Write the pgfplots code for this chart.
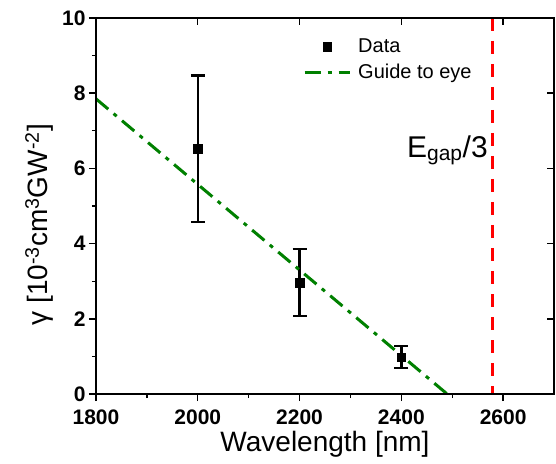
\documentclass[border=0pt]{standalone}
\usepackage{pgfplots}
\pgfplotsset{compat=1.18}
\usepackage{fontspec}
\setmainfont{Liberation Sans}
\begin{document}
\begin{tikzpicture}
% shared frame settings
\pgfplotsset{frame/.style={
    width=458pt, height=376pt, scale only axis,
    xmin=1800, xmax=2700, ymin=0, ymax=10,
    axis line style={line width=1.4pt},
}}
\begin{axis}[
    frame, name=ax,
    xtick={1800,2000,...,2600},
    ytick={0,2,...,10},
    minor x tick num=1,
    minor y tick num=1,
    xtick pos=left, ytick pos=left,
    tick align=outside,
    major tick length=7pt, minor tick length=4pt,
    tick style={line width=1.4pt, black},
    xticklabel={\bfseries\pgfmathprintnumber[assume math mode=true,1000 sep={}]{\tick}},
    yticklabel={\bfseries\pgfmathprintnumber[assume math mode=true]{\tick}},
    ticklabel style={font=\fontsize{21}{23}\selectfont},
    xticklabel style={yshift=-5pt},
    xlabel={Wavelength [nm]},
    ylabel={γ [10\textsuperscript{-3}cm\textsuperscript{3}GW\textsuperscript{-2}]},
    label style={font=\fontsize{28}{32}\selectfont},
    xlabel style={at={(axis description cs:0.5,-0.154)}, anchor=base},
    ylabel style={at={(axis description cs:-0.105,0.45)}, anchor=base},
    legend style={at={(0.452,0.95)}, anchor=north west, draw=none, fill=none,
        inner sep=0pt, font=\fontsize{20}{23}\selectfont, row sep=6pt,
        /tikz/every odd column/.append style={column sep=5pt}},
    legend cell align=left,
    legend image code/.code={\draw[mark repeat=2, mark phase=2, #1]
        plot coordinates {(0pt,0pt) (22.5pt,0pt) (45pt,0pt)};},
]
\addplot[only marks, mark=square*, mark size=4.3pt, black,
    error bars/.cd, y dir=both, y explicit,
    error bar style={line width=2.5pt},
    error mark options={rotate=90, mark size=7pt, line width=2.5pt}]
    coordinates {
    (2000,6.52) +- (0,1.95)
    (2200,2.96) +- (0,0.89)
    (2400,0.98) +- (0,0.29)
    };
\addlegendentry{Data}
\addplot[color={rgb,255:red,0;green,128;blue,0}, line width=3pt,
    dash pattern=on 16pt off 7pt on 4pt off 7pt]
    coordinates {(1800,7.85) (2490,0)};
\addlegendentry{Guide to eye}
\addplot[red, line width=3pt, dash pattern=on 13pt off 10pt, forget plot]
    coordinates {(2580,10) (2580,0)};
\node[font=\fontsize{30}{32}\selectfont, anchor=base west, inner sep=0pt]
    at (axis cs:2411,6.30) {E\textsubscript{gap}/3};
\end{axis}
\begin{axis}[
    frame,
    xtick={1800,2000,...,2600},
    ytick={0,2,...,10},
    xtick pos=right, ytick pos=right,
    tick align=inside,
    major tick length=7pt,
    tick style={line width=1.4pt, black},
    xticklabels={}, yticklabels={},
]
\end{axis}
\path (ax.south west) ++(-96pt,-69pt) coordinate (bl);
\path (ax.north east) ++(2pt,18pt) coordinate (tr);
\pgfresetboundingbox
\useasboundingbox (bl) rectangle (tr);
\end{tikzpicture}
\end{document}
